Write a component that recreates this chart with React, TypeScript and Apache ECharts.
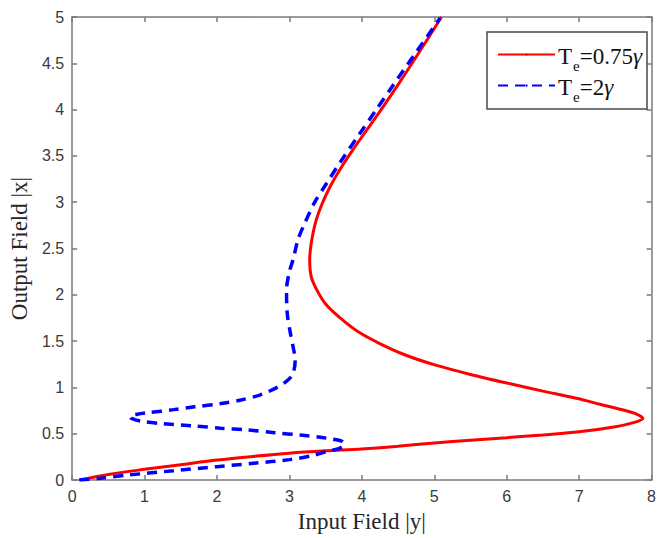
import React, { useEffect, useRef } from "react";
import * as echarts from "echarts";

// Te = 0.75γ (solid red)
const redX = [0.1, 0.5, 1.0, 1.5, 2.0, 2.5, 3.0, 3.5, 4.0, 4.5, 5.0, 5.5, 6.0, 6.5, 7.0, 7.5, 7.75, 7.88, 7.8, 7.61, 7.3, 6.98, 6.5, 6.02, 5.5, 5.02, 4.6, 4.24, 3.95, 3.7, 3.5, 3.38, 3.3, 3.28, 3.3, 3.36, 3.45, 3.57, 3.72, 3.88, 4.05, 4.25, 4.51, 4.8, 5.1];
const redY = [0.0, 0.06, 0.115, 0.165, 0.215, 0.255, 0.29, 0.315, 0.335, 0.365, 0.4, 0.43, 0.457, 0.487, 0.52, 0.575, 0.62, 0.665, 0.71, 0.756, 0.815, 0.88, 0.96, 1.044, 1.14, 1.24, 1.35, 1.476, 1.6, 1.75, 1.9, 2.05, 2.2, 2.38, 2.55, 2.78, 2.98, 3.18, 3.38, 3.57, 3.76, 3.98, 4.28, 4.63, 5.0];

// Te = 2γ (dashed blue)
const blueX = [0.1, 0.4, 0.78, 1.4, 2.0, 2.5, 3.0, 3.3, 3.51, 3.68, 3.76, 3.72, 3.6, 3.4, 3.15, 2.8, 2.42, 2.05, 1.69, 1.23, 0.95, 0.82, 0.8, 0.9, 1.05, 1.4, 1.69, 2.05, 2.33, 2.6, 2.83, 2.98, 3.05, 3.08, 3.05, 3.01, 2.97, 2.96, 3.0, 3.05, 3.12, 3.21, 3.35, 3.51, 3.7, 3.97, 4.2, 4.42, 4.75, 5.08];
const blueY = [0.0, 0.02, 0.054, 0.1, 0.144, 0.18, 0.22, 0.26, 0.306, 0.34, 0.38, 0.42, 0.44, 0.465, 0.486, 0.51, 0.54, 0.56, 0.583, 0.61, 0.635, 0.665, 0.69, 0.71, 0.727, 0.76, 0.79, 0.825, 0.864, 0.92, 1.0, 1.08, 1.15, 1.3, 1.44, 1.6, 1.8, 2.05, 2.25, 2.38, 2.6, 2.77, 3.0, 3.2, 3.43, 3.74, 4.0, 4.25, 4.62, 4.99];

const seriesNames = ["Te=0.75γ", "Te=2γ"];
const xTicks = { min: 0, max: 8, interval: 1 };
const yTicks = { min: 0, max: 5, interval: 0.5 };

const AXIS_COLOR = "#7a7a7a";
const LABEL_COLOR = "#3a3a3a";
const SANS = "'Liberation Sans', Arial, sans-serif";
const SERIF = "'Liberation Serif', 'Times New Roman', serif";

function zip(xs: number[], ys: number[]) {
  return xs.map((x, i) => [x, ys[i]]);
}

export default function App() {
  const ref = useRef<HTMLDivElement>(null);
  useEffect(() => {
    if (!ref.current) return;
    const chart = echarts.init(ref.current, undefined, { renderer: "svg" });
    const axisLine = { show: true, onZero: false, lineStyle: { color: AXIS_COLOR, width: 1.5 } };
    const axisTick = { show: true, inside: true, length: 5, lineStyle: { color: AXIS_COLOR, width: 1.5 } };
    const labelStyle = { fontFamily: SANS, fontSize: 16, color: LABEL_COLOR };
    const nameStyle = { fontFamily: SERIF, fontSize: 23, color: "#262626" };
    chart.setOption({
      animation: false,
      backgroundColor: "#ffffff",
      grid: { left: 70, right: 4, top: 17, bottom: 58, containLabel: false },
      xAxis: [
        {
          type: "value", position: "bottom", ...xTicks,
          axisLine, axisTick, splitLine: { show: false },
          axisLabel: { ...labelStyle, margin: 8 },
          name: "Input Field |y|", nameLocation: "middle", nameGap: 30, nameTextStyle: nameStyle,
        },
        {
          type: "value", position: "top", ...xTicks,
          axisLine, axisTick, splitLine: { show: false }, axisLabel: { show: false },
        },
      ],
      yAxis: [
        {
          type: "value", position: "left", ...yTicks,
          axisLine, axisTick, splitLine: { show: false },
          axisLabel: { ...labelStyle, margin: 8 },
          name: "Output Field |x|", nameLocation: "middle", nameGap: 40, nameTextStyle: nameStyle,
        },
        {
          type: "value", position: "right", ...yTicks,
          axisLine, axisTick, splitLine: { show: false }, axisLabel: { show: false },
        },
      ],
      legend: {
        show: true,
        orient: "vertical",
        right: 12,
        top: 32,
        data: seriesNames,
        itemWidth: 57,
        itemHeight: 3,
        itemGap: 3,
        padding: [13, 5, 5, 10],
        borderColor: "#4a4a4a",
        borderWidth: 1.5,
        backgroundColor: "#ffffff",
        formatter: (name: string) => `{t|T}{s|e}{t|${name.slice(2, -1)}}{g|γ}`,
        textStyle: {
          color: "#111",
          fontFamily: SERIF,
          padding: [5, 0, 0, -2],
          rich: {
            t: { fontFamily: SERIF, fontSize: 23, lineHeight: 24, verticalAlign: "top", color: "#111" },
            g: { fontFamily: SERIF, fontSize: 23, lineHeight: 24, verticalAlign: "top", fontStyle: "italic", color: "#111" },
            s: { fontFamily: SERIF, fontSize: 15, lineHeight: 16, padding: [13, 0, 0, 1], verticalAlign: "top", color: "#111" },
          },
        },
      },
      series: [
        {
          name: seriesNames[0], type: "line", xAxisIndex: 0, yAxisIndex: 0,
          data: zip(redX, redY), symbol: "none", smooth: 0.3,
          lineStyle: { color: "#ff0000", width: 3 }, itemStyle: { color: "#ff0000" },
        },
        {
          name: seriesNames[1], type: "line", xAxisIndex: 0, yAxisIndex: 0,
          data: zip(blueX, blueY), symbol: "none", smooth: 0.3,
          lineStyle: { color: "#0000ff", width: 3.5, type: [10, 7] }, itemStyle: { color: "#0000ff" },
        },
      ],
    });
    return () => chart.dispose();
  }, []);
  return <div ref={ref} style={{ position: "fixed", left: 0, top: 0, width: 659, height: 538 }} />;
}
